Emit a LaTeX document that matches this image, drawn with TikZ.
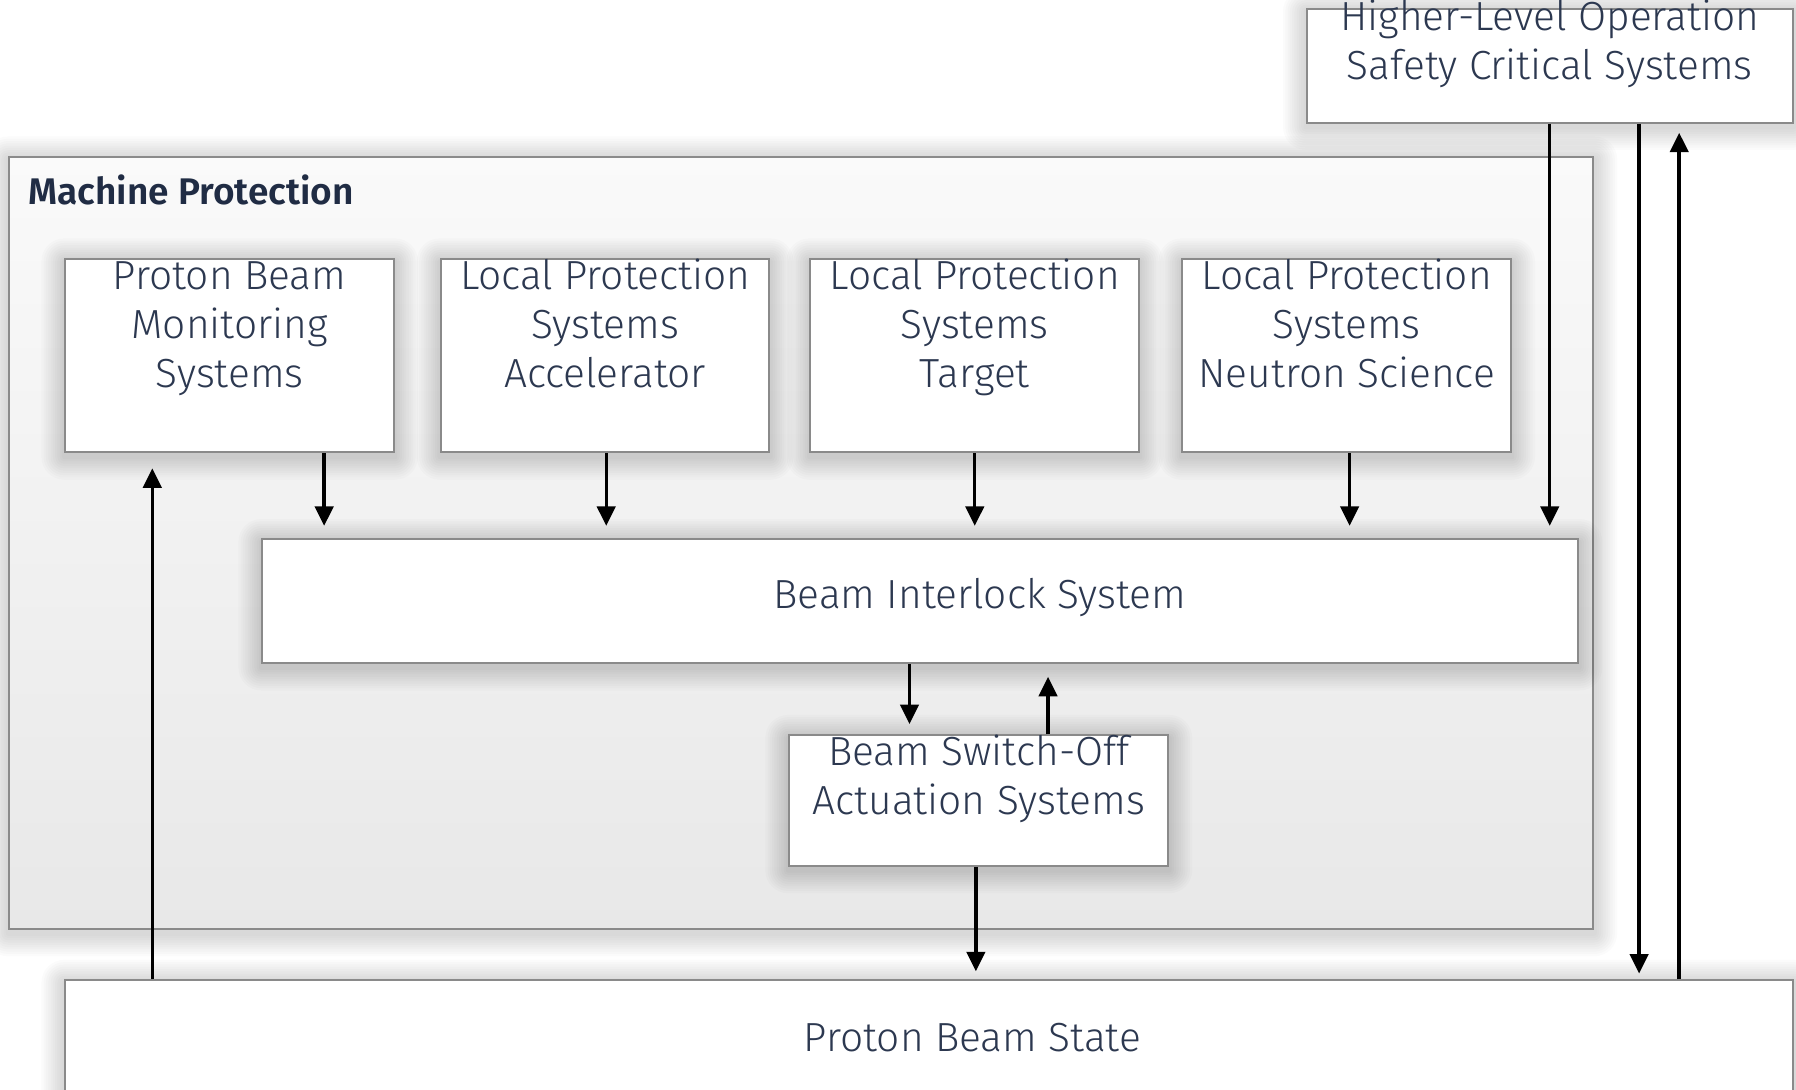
\documentclass[tikz,border=0pt]{standalone}
\usepackage{fontspec}
\setmainfont{Fira Sans}[UprightFont={* Light}, BoldFont={* SemiBold}]
\usetikzlibrary{positioning,arrows.meta}

\definecolor{txtcol}{RGB}{44,56,80}
\definecolor{titlecol}{RGB}{32,44,68}
\definecolor{edgecol}{RGB}{138,138,138}

\pgfdeclarelayer{mpshade}
\pgfdeclarelayer{mpback}
\pgfdeclarelayer{shade}
\pgfsetlayers{mpshade,mpback,shade,main}

\tikzset{
  boxtext/.style={align=center, text=txtcol, font=\fontsize{10.1}{12.2}\selectfont},
  sysbox/.style={draw=edgecol, line width=0.5pt, fill=white, inner sep=0pt, boxtext},
  tri/.style={text height=19.4pt, text depth=3.7pt},
  duo/.style={text height=10.6pt, text depth=3.7pt},
  haze/.style={fill=black, opacity=0.014},
  sig/.style={line width=0.85pt, -{Triangle[width=0.16cm, length=0.17cm]}}
}

\begin{document}
\begin{tikzpicture}
  \useasboundingbox (0,0) rectangle (15.68,-9.51);
  \clip (0,0) rectangle (15.68,-9.51);

  % machine protection frame
  \begin{pgfonlayer}{mpback}
    \node [draw=edgecol, line width=0.5pt, top color=black!2, bottom color=black!9,
      minimum width=13.83cm, minimum height=6.74cm, inner sep=0pt] (mp) at (6.995,-4.74) {};
  \end{pgfonlayer}
  \node [anchor=west, inner sep=0pt, text=titlecol, font=\fontsize{9.2}{11}\selectfont\bfseries]
    (mptitle) at ([xshift=0.17cm, yshift=-0.30cm]mp.north west) {Machine Protection};

  % top row
  \node [sysbox, tri, minimum width=2.87cm, minimum height=1.69cm] (pbm) at (2.005,-3.105)
    {Proton Beam\\Monitoring\\Systems};
  \node [sysbox, tri, minimum width=2.87cm, minimum height=1.69cm, right=0.39 of pbm] (lpa)
    {Local Protection\\Systems\\Accelerator};
  \node [sysbox, tri, minimum width=2.87cm, minimum height=1.69cm, right=0.34 of lpa] (lpt)
    {Local Protection\\Systems\\Target};
  \node [sysbox, tri, minimum width=2.87cm, minimum height=1.69cm, right=0.36 of lpt] (lpn)
    {Local Protection\\Systems\\Neutron Science};

  \node [sysbox, minimum width=11.49cm, minimum height=1.08cm] (bis) at (8.035,-5.25) {};
  \node [boxtext] (bistxt) at ([xshift=0.52cm, yshift=0.03cm]bis.center) {Beam Interlock System};
  \node [sysbox, duo, minimum width=3.31cm, minimum height=1.14cm] (bso) at (8.545,-6.99)
    {Beam Switch-Off\\Actuation Systems};

  \node [sysbox, duo, minimum width=4.24cm, minimum height=0.99cm] (hlo) at (13.53,-0.575)
    {Higher-Level Operation\\Safety Critical Systems};

  % proton beam state, runs off the bottom
  \node [sysbox, minimum width=15.08cm, minimum height=3.0cm, anchor=north] (pbs) at (8.11,-8.55) {};
  \node [boxtext] (pbstxt) at ([xshift=0.38cm, yshift=-0.51cm]pbs.north) {Proton Beam State};

  % soft shadows
  \begin{pgfonlayer}{mpshade}
    \foreach \d in {0.02,0.04,...,0.2}
      \fill [haze, rounded corners=\d cm] ([xshift=-\d cm, yshift=-\d cm-0.03cm]mp.south west)
        rectangle ([xshift=\d cm, yshift=\d cm-0.03cm]mp.north east);
  \end{pgfonlayer}
  \begin{pgfonlayer}{shade}
    \foreach \n in {pbm,lpa,lpt,lpn,bis,bso,hlo,pbs}
      \foreach \d in {0.02,0.04,...,0.2}
        \fill [haze, rounded corners=\d cm] ([xshift=-\d cm, yshift=-\d cm-0.03cm]\n.south west)
          rectangle ([xshift=\d cm, yshift=\d cm-0.03cm]\n.north east);
  \end{pgfonlayer}

  % into the interlock
  \draw [sig, shorten >=0.11cm] ([xshift=0.825cm]pbm.south) -- ([xshift=0.825cm]pbm.south |- bis.north);
  \draw [sig, shorten >=0.11cm] ([xshift=0.01cm]lpa.south) -- ([xshift=0.01cm]lpa.south |- bis.north);
  \draw [sig, shorten >=0.11cm] ([xshift=0.00cm]lpt.south) -- ([xshift=0.00cm]lpt.south |- bis.north);
  \draw [sig, shorten >=0.11cm] ([xshift=0.025cm]lpn.south) -- ([xshift=0.025cm]lpn.south |- bis.north);
  \draw [sig, shorten >=0.11cm] (hlo.south) -- (hlo.south |- bis.north);

  % interlock <-> actuation
  \draw [sig, shorten >=0.09cm] ([xshift=-0.605cm]bso.north |- bis.south) -- ([xshift=-0.605cm]bso.north);
  \draw [sig, shorten >=0.11cm] ([xshift=0.605cm]bso.north) -- ([xshift=0.605cm]bso.north |- bis.south);

  % to and from the beam
  \draw [sig, shorten >=0.07cm] ([xshift=-0.025cm]bso.south) -- ([xshift=-0.025cm]bso.south |- pbs.north);
  \draw [sig, shorten >=0.13cm] ([xshift=-0.675cm]pbm.south |- pbs.north) -- ([xshift=-0.675cm]pbm.south);
  \draw [sig, shorten >=0.05cm] ([xshift=0.78cm]hlo.south) -- ([xshift=0.78cm]hlo.south |- pbs.north);
  \draw [sig, shorten >=0.08cm] ([xshift=1.13cm]hlo.south |- pbs.north) -- ([xshift=1.13cm]hlo.south);
\end{tikzpicture}
\end{document}
